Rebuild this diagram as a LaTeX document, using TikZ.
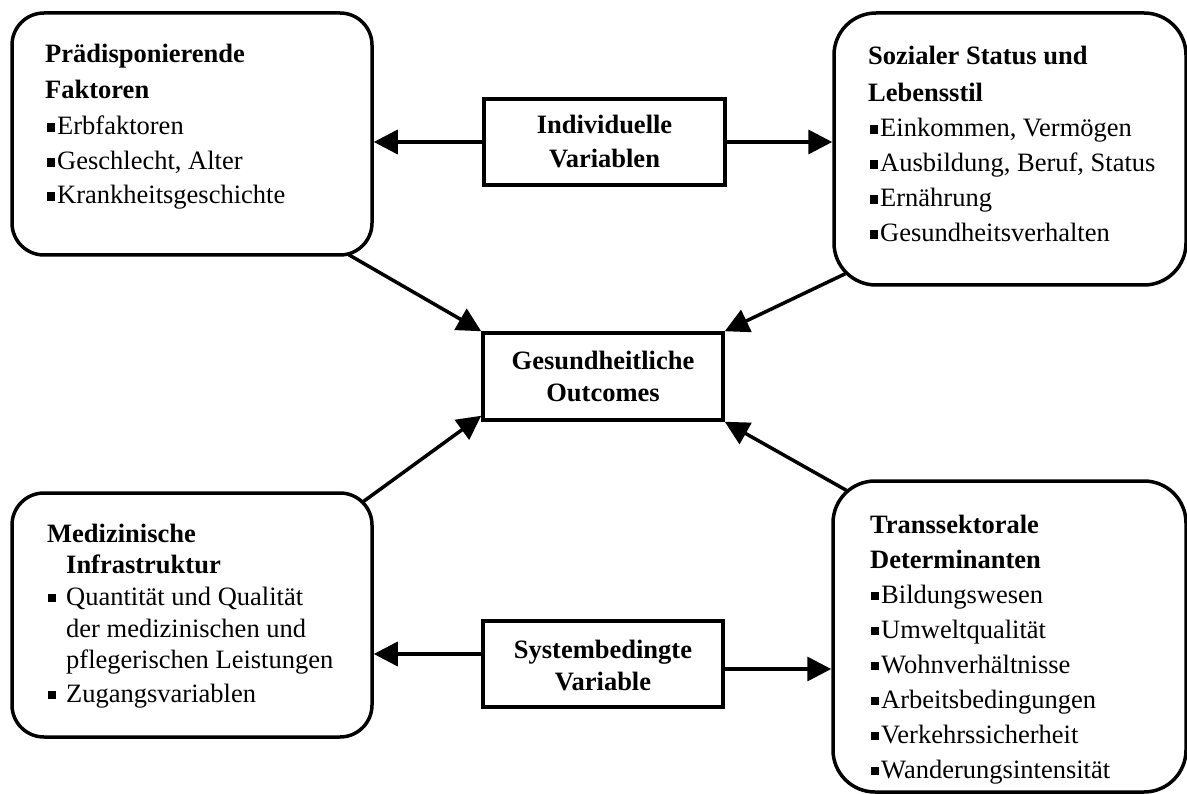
\documentclass[tikz,border=0pt]{standalone}
\usepackage{fontspec}
\setmainfont{Liberation Serif}
\usetikzlibrary{arrows.meta,calc}
% small square bullet in front of list entries
\newcommand\sqbul{\rule[3pt]{8pt}{8.5pt}}
\tikzset{
  rbox/.style={draw,line width=3.5pt,rounded corners=#1,inner sep=0pt},
  sbox/.style={draw,line width=3.5pt,inner sep=0pt},
  txt/.style={anchor=base west,inner sep=0pt,font=\fontsize{26.5pt}{34pt}\selectfont},
  head/.style={txt,font=\fontsize{26.5pt}{34pt}\selectfont\bfseries},
  ctxt/.style={anchor=base,inner sep=0pt,font=\fontsize{26.5pt}{34pt}\selectfont\bfseries},
  arr/.style={line width=3.5pt,-{Triangle[length=24pt,width=24pt]}}
}
\begin{document}
\begin{tikzpicture}[x=1pt,y=-1pt]
\useasboundingbox (0,0) rectangle (1187,794);
\clip (0,0) rectangle (1187,794);
\fill[white] (0,0) rectangle (1187,794);

% outer boxes
\node[rbox=32pt,minimum width=360pt,minimum height=242pt] (tl) at (192,134) {};
\node[rbox=42pt,minimum width=352pt,minimum height=272pt] (tr) at (1010,149) {};
\node[rbox=32pt,minimum width=360pt,minimum height=244pt] (bl) at (192,615) {};
\node[rbox=42pt,minimum width=353pt,minimum height=311pt] (br) at (1009.5,636.5) {};

% middle boxes
\node[sbox,minimum width=241pt,minimum height=86pt] (iv) at (604.5,142) {};
\node[sbox,minimum width=240pt,minimum height=87pt] (go) at (603,376.5) {};
\node[sbox,minimum width=240pt,minimum height=86pt] (sv) at (603,664) {};

% middle labels
\node[ctxt] (iv1) at (604.5,134) {Individuelle};
\node[ctxt] (iv2) at (604.5,168) {Variablen};
\node[ctxt] (go1) at (603,370) {Gesundheitliche};
\node[ctxt] (go2) at (603,402) {Outcomes};
\node[ctxt] (sv1) at (603,658) {Systembedingte};
\node[ctxt] (sv2) at (603,690) {Variable};

% top left contents
\node[head] (tlh1) at (45,63) {Prädisponierende};
\node[head] (tlh2) at (45,99) {Faktoren};
\node[txt] (tl1) at (47,135) {\sqbul\hspace{2pt}Erbfaktoren};
\node[txt] (tl2) at (47,170) {\sqbul\hspace{2pt}Geschlecht, Alter};
\node[txt] (tl3) at (47,204) {\sqbul\hspace{2pt}Krankheitsgeschichte};

% top right contents
\node[head] (trh1) at (868,65) {Sozialer Status und};
\node[head] (trh2) at (868,102) {Lebensstil};
\node[txt] (tr1) at (870,137) {\sqbul\hspace{2pt}Einkommen, Vermögen};
\node[txt] (tr2) at (870,172) {\sqbul\hspace{2pt}Ausbildung, Beruf, Status};
\node[txt] (tr3) at (870,207) {\sqbul\hspace{2pt}Ernährung};
\node[txt] (tr4) at (870,242) {\sqbul\hspace{2pt}Gesundheitsverhalten};

% bottom left contents
\node[head] (blh1) at (47,542) {Medizinische};
\node[head] (blh2) at (66,573) {Infrastruktur};
\node[txt] (blb1) at (48,605) {\sqbul};
\node[txt] (bl1) at (66,605) {Quantität und Qualität};
\node[txt] (bl2) at (66,637) {der medizinischen und};
\node[txt] (bl3) at (66,668) {pflegerischen Leistungen};
\node[txt] (blb2) at (48,702) {\sqbul};
\node[txt] (bl4) at (66,702) {Zugangsvariablen};

% bottom right contents
\node[head] (brh1) at (870,533) {Transsektorale};
\node[head] (brh2) at (870,568) {Determinanten};
\node[txt] (br1) at (871,603) {\sqbul\hspace{2pt}Bildungswesen};
\node[txt] (br2) at (871,638) {\sqbul\hspace{2pt}Umweltqualität};
\node[txt] (br3) at (871,673) {\sqbul\hspace{2pt}Wohnverhältnisse};
\node[txt] (br4) at (871,708) {\sqbul\hspace{2pt}Arbeitsbedingungen};
\node[txt] (br5) at (871,743) {\sqbul\hspace{2pt}Verkehrssicherheit};
\node[txt] (br6) at (871,778) {\sqbul\hspace{2pt}Wanderungsintensität};

% horizontal connectors
\draw[arr] (iv.west) -- (iv.west -| tl.east);
\draw[arr] (iv.east) -- (iv.east -| tr.west);
\coordinate (svl) at ($(sv.west)+(0,-10)$);
\coordinate (svr) at ($(sv.east)+(0,5)$);
\draw[arr] (svl) -- (svl -| bl.east);
\draw[arr] (svr) -- (svr -| br.west);

% diagonal connectors into the outcome box
\draw[arr] ($(tl.south east)+(-25,-2)$) -- (go.north west);
\draw[arr] ($(tr.south west)+(13,-13)$) -- (go.north east);
\draw[arr] ($(bl.north east)+(-10,10)$) -- ($(go.south west)+(0,-6)$);
\draw[arr] ($(br.north west)+(15,11)$) -- (go.south east);
\end{tikzpicture}
\end{document}
